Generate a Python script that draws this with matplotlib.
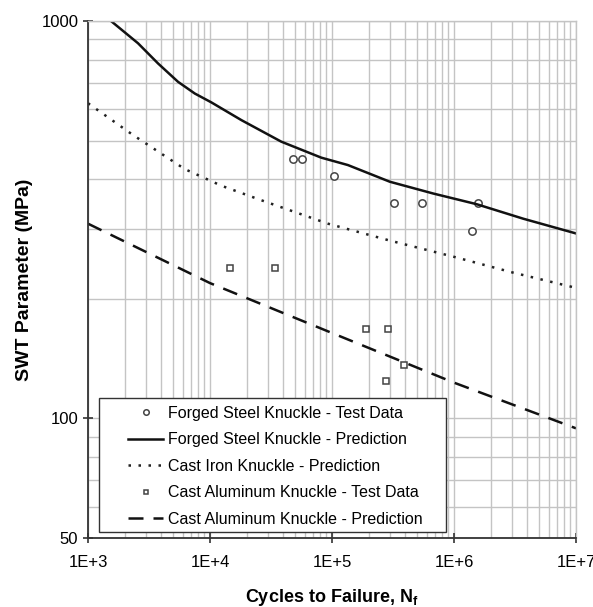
import matplotlib
matplotlib.use("Agg")
import matplotlib.pyplot as plt
from matplotlib.ticker import FixedLocator, NullFormatter
from matplotlib.patches import Rectangle

plt.rcParams['font.family'] = ['Liberation Sans', 'DejaVu Sans']
plt.rcParams['mathtext.fontset'] = 'custom'
plt.rcParams['mathtext.rm'] = 'Liberation Sans'
plt.rcParams['mathtext.bf'] = 'Liberation Sans:bold'

# Forged steel test data
steel_N = [4.8e4, 5.7e4, 1.03e5, 3.2e5, 5.5e5, 1.56e6, 1.40e6]
steel_S = [450, 450, 407, 348, 348, 348, 296]

# Forged steel prediction
steel_pred_N = [1543, 2570, 3750, 5470, 7500, 1.026e4, 1.81e4, 3.84e4, 8.17e4, 1.35e5,
                2.98e5, 6.76e5, 1.53e6, 3.7e6, 1.0e7]
steel_pred_S = [1000, 879, 782, 703, 657, 624, 563, 497, 453, 434,
                394, 368, 346, 318, 292]

# Cast iron prediction
iron_pred_N = [1e3, 2350, 6210, 1.24e4, 2.63e4, 9.27e4, 3e5, 1e6, 3e6, 1e7]
iron_pred_S = [621, 516, 424, 385, 354, 309, 280, 255, 233, 213]

# Cast aluminum test data
alu_N = [1.46e4, 3.43e4, 1.89e5, 2.86e5, 3.92e5, 2.75e5]
alu_S = [239, 239, 168, 168, 136.6, 124]

# Cast aluminum prediction
alu_pred_N = [1e3, 1e4, 1e5, 1e6, 1e7]
alu_pred_S = [309, 219, 164, 123, 94.4]

x_ticks = [1e3, 1e4, 1e5, 1e6, 1e7]
x_tick_labels = ["1E+3", "1E+4", "1E+5", "1E+6", "1E+7"]
y_ticks = [50, 100, 1000]
y_tick_labels = ["50", "100", "1000"]

fig = plt.figure(figsize=(5.93, 6.07), dpi=100)
ax = fig.add_axes([0.1484, 0.1137, 0.8229, 0.8517])
ax.set_xscale('log')
ax.set_yscale('log')
ax.set_xlim(1e3, 1e7)
ax.set_ylim(50, 1000)

grid_c = '#c4c4c4'
ax.set_xticks(x_ticks)
ax.set_xticklabels(x_tick_labels)
ax.set_yticks(y_ticks)
ax.set_yticklabels(y_tick_labels)
xminor = [m * 10**d for d in range(3, 7) for m in range(2, 10)]
ax.xaxis.set_minor_locator(FixedLocator(xminor))
ax.yaxis.set_minor_locator(FixedLocator([60, 70, 80, 90, 200, 300, 400, 500, 600, 700, 800, 900]))
ax.xaxis.set_minor_formatter(NullFormatter())
ax.yaxis.set_minor_formatter(NullFormatter())
ax.grid(True, which='both', color=grid_c, linewidth=1.0)
ax.set_axisbelow(True)
ax.tick_params(which='minor', length=0)
ax.tick_params(which='major', direction='inout', length=7, width=1.2, color='#333333', labelsize=12)
ax.tick_params(axis='x', pad=9)

for s in ('top', 'right'):
    ax.spines[s].set_color(grid_c)
    ax.spines[s].set_linewidth(1.0)
for s in ('left', 'bottom'):
    ax.spines[s].set_color('#333333')
    ax.spines[s].set_linewidth(1.3)

ax.plot(steel_N, steel_S, linestyle='none', marker='o', markersize=5.3,
        markerfacecolor='white', markeredgecolor='#444444', markeredgewidth=1.1,
        label='Forged Steel Knuckle - Test Data')
ax.plot(steel_pred_N, steel_pred_S, color='#111111', linewidth=1.8,
        label='Forged Steel Knuckle - Prediction')
ax.plot(iron_pred_N, iron_pred_S, color='#222222', linewidth=1.8, linestyle=(0, (1, 3)),
        label='Cast Iron Knuckle - Prediction')
ax.plot(alu_N, alu_S, linestyle='none', marker='s', markersize=4.8,
        markerfacecolor='white', markeredgecolor='#444444', markeredgewidth=1.1,
        label='Cast Aluminum Knuckle - Test Data')
ax.plot(alu_pred_N, alu_pred_S, color='#111111', linewidth=1.8, linestyle=(0, (6, 4)),
        label='Cast Aluminum Knuckle - Prediction')

# legend box
box = Rectangle((0.0232, 0.011), 0.733 - 0.0232, 0.2714 - 0.011, transform=ax.transAxes,
                facecolor='white', edgecolor='#333333', linewidth=1.0, zorder=4)
ax.add_patch(box)
leg = ax.legend(loc='upper left', bbox_to_anchor=(0.082, 0.256), fontsize=11.5,
                frameon=False, handlelength=2.2, handletextpad=0.3, borderpad=0,
                labelspacing=0.72, markerscale=0.75, borderaxespad=0)
leg.set_zorder(5)

ax.set_ylabel('SWT Parameter (MPa)', fontsize=14, fontweight='bold', labelpad=6)
ax.set_xlabel(r'Cycles to Failure, N$_\mathbf{f}$', fontsize=13, fontweight='bold', labelpad=12)

fig.savefig('out.png', dpi=100)
